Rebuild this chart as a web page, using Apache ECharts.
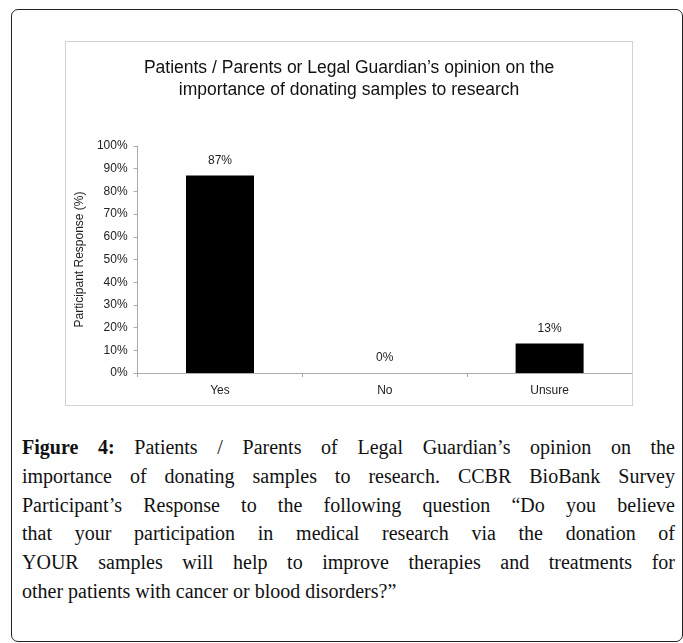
<!DOCTYPE html>
<html>
<head>
<meta charset="utf-8">
<script src="https://cdn.jsdelivr.net/npm/echarts@6/dist/echarts.min.js"></script>
<style>
  html, body { margin: 0; padding: 0; background: #fff; width: 683px; height: 643px; overflow: hidden; }
  #outer { position: absolute; left: 11px; top: 9px; width: 672px; height: 633px; box-sizing: border-box;
           border: 1.3px solid #222; border-radius: 7px; }
  #chart { position: absolute; left: 65px; top: 41px; width: 568px; height: 365px; box-sizing: border-box;
           border: 1px solid #d2d2d2; }
  #caption { position: absolute; left: 22px; top: 433px; width: 653px;
             font-family: "Liberation Serif", "Times New Roman", serif; font-size: 20px; line-height: 28.8px; color: #111; }
  #caption div { text-align: justify; text-align-last: justify; white-space: nowrap; }
  #caption div.last { text-align: left; text-align-last: left; }
</style>
</head>
<body>
<div id="outer"></div>
<div id="chart"></div>
<div id="caption">
  <div><b>Figure 4:</b> Patients / Parents of Legal Guardian’s opinion on the</div>
  <div>importance of donating samples to research. CCBR BioBank Survey</div>
  <div>Participant’s Response to the following question “Do you believe</div>
  <div>that your participation in medical research via the donation of</div>
  <div>YOUR samples will help to improve therapies and treatments for</div>
  <div class="last">other patients with cancer or blood disorders?”</div>
</div>
<script>
const categories = ['Yes', 'No', 'Unsure'];
const responses = [87, 0, 13];
const yTickValues = [0, 10, 20, 30, 40, 50, 60, 70, 80, 90, 100];
const chartTitle = 'Patients / Parents or Legal Guardian’s opinion on the\nimportance of donating samples to research';
const yAxisName = 'Participant Response (%)';

const chart = echarts.init(document.getElementById('chart'), null, { renderer: 'canvas' });
const font = 'Liberation Sans, Arial, sans-serif';
chart.setOption({
  animation: false,
  title: {
    text: chartTitle,
    left: 'center',
    top: 10,
    textStyle: { fontFamily: font, fontSize: 17.5, fontWeight: 'normal', color: '#111', lineHeight: 22 }
  },
  grid: { left: 63.5, right: 0, top: 104, bottom: 32, containLabel: false },
  xAxis: {
    type: 'category',
    data: categories,
    axisLine: { show: true, lineStyle: { color: '#aaa', width: 1 } },
    axisTick: { show: true, alignWithLabel: false, length: 4, lineStyle: { color: '#aaa' } },
    axisLabel: { fontFamily: font, fontSize: 12, color: '#222', margin: 12 }
  },
  yAxis: {
    type: 'value',
    min: 0, max: 100, interval: 10,
    name: yAxisName,
    nameLocation: 'middle',
    nameGap: 47,
    nameTextStyle: { fontFamily: font, fontSize: 12, color: '#222' },
    splitLine: { show: false },
    axisLine: { show: true, lineStyle: { color: '#aaa', width: 1 } },
    axisTick: { show: true, length: 4, lineStyle: { color: '#aaa' } },
    axisLabel: {
      fontFamily: font, fontSize: 12, color: '#222', margin: 10,
      formatter: v => (yTickValues.includes(v) ? v + '%' : '')
    }
  },
  series: [{
    type: 'bar',
    data: responses,
    barWidth: 68,
    itemStyle: { color: '#000' },
    label: {
      show: true, position: 'top', distance: 9,
      fontFamily: font, fontSize: 12, color: '#222',
      formatter: p => p.value + '%'
    }
  }]
});
</script>
</body>
</html>
